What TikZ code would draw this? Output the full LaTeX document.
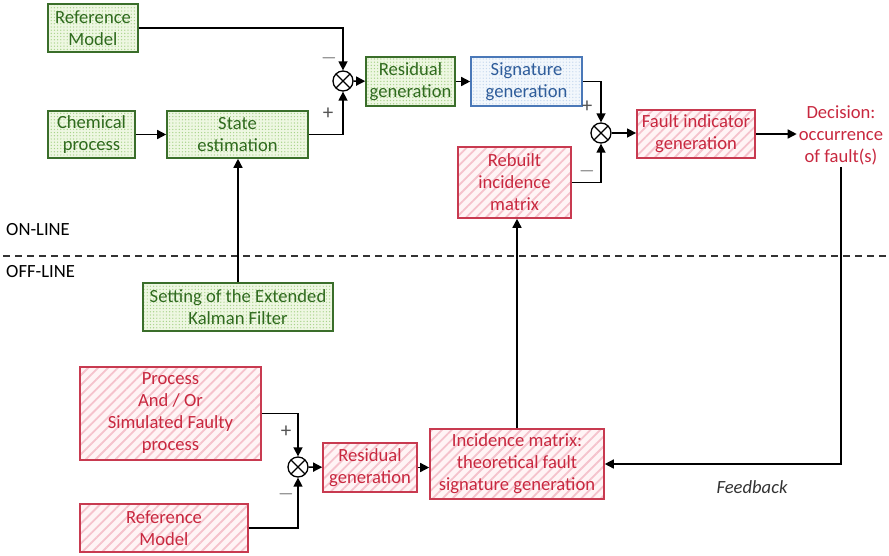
\documentclass[tikz,border=0pt]{standalone}
\usepackage{fontspec}
\setmainfont{Carlito}
\usetikzlibrary{arrows.meta,patterns.meta}
\definecolor{gborder}{HTML}{3A6E2A}
\definecolor{gtext}{HTML}{2F6A1E}
\definecolor{gfill}{HTML}{EEF7E2}
\definecolor{gdot}{HTML}{A8D38A}
\definecolor{rborder}{HTML}{C83A50}
\definecolor{rtext}{HTML}{C8283F}
\definecolor{rfill}{HTML}{FFF4F5}
\definecolor{rline}{HTML}{F5C2CC}
\definecolor{bborder}{HTML}{4A78B8}
\definecolor{btext}{HTML}{2E5C9A}
\definecolor{bfill}{HTML}{F2F7FC}
\definecolor{bdot}{HTML}{C5D8EE}
\definecolor{sgn}{HTML}{555555}
\tikzset{
  x=1pt,y=-1pt,
  every node/.style={font=\fontsize{18.6}{22}\selectfont, align=center, inner sep=0pt},
  gbox/.style={draw=gborder, line width=1.6pt, text=gtext, preaction={fill=gfill},
    pattern={Dots[radius=0.7pt,distance=3.2pt]}, pattern color=gdot},
  rbox/.style={draw=rborder, line width=1.6pt, text=rtext, preaction={fill=rfill},
    pattern={Lines[angle=45,distance=7pt,line width=1.8pt]}, pattern color=rline},
  bbox/.style={draw=bborder, line width=1.6pt, text=btext, preaction={fill=bfill},
    pattern={Dots[radius=0.7pt,distance=3.2pt]}, pattern color=bdot},
  sumnode/.style={circle, draw, fill=white, minimum size=20pt, line width=1.3pt,
    path picture={\draw[line width=1.1pt] (path picture bounding box.north west) -- (path picture bounding box.south east)
      (path picture bounding box.north east) -- (path picture bounding box.south west);}},
  arr/.style={line width=1.5pt, -{Triangle[length=9pt,width=9pt]}},
  sign/.style={text=sgn, font=\fontsize{21}{21}\selectfont},
}
\begin{document}
\begin{tikzpicture}
\useasboundingbox (0,0) rectangle (889,555);
% on-line
\node[gbox, minimum width=90pt, minimum height=48pt] (refA) at (93,28) {Reference\\Model};
\node[gbox, minimum width=87pt, minimum height=47pt] (chem) at (91.5,134.5) {Chemical\\process};
\node[gbox, minimum width=141pt, minimum height=47pt] (state) at (237.5,134.5) {State\\estimation};
\node[sumnode] (sum1) at (343,81) {};
\node[gbox, minimum width=89pt, minimum height=49pt] (res1) at (410.5,81.5) {Residual\\generation};
\node[bbox, minimum width=111pt, minimum height=49pt] (sig) at (526.5,81.5) {Signature\\generation};
\node[sumnode] (sum2) at (601,133) {};
\node[rbox, minimum width=118pt, minimum height=48pt] (fault) at (696,134) {Fault indicator\\generation};
\node[text=rtext, inner sep=2pt] (dec) at (841,135) {Decision:\\occurrence\\of fault(s)};
\node[rbox, minimum width=113pt, minimum height=71pt] (rebuilt) at (514.5,182.5) {Rebuilt\\incidence\\matrix};
% labels
\node[anchor=west] (on) at (6,230) {ON-LINE};
\node[anchor=west] (off) at (6,272) {OFF-LINE};
\draw[line width=1.4pt, draw=black!80, dash pattern=on 7pt off 5pt] (3,256) -- (889,256);
% off-line
\node[gbox, minimum width=190pt, minimum height=48pt] (kal) at (238,307) {Setting of the Extended\\Kalman Filter};
\node[rbox, minimum width=181pt, minimum height=93pt] (proc) at (170.5,413.5) {Process\\And / Or\\Simulated Faulty\\process};
\node[rbox, minimum width=168pt, minimum height=48pt] (refB) at (164,528) {Reference\\Model};
\node[sumnode] (sum3) at (298,467) {};
\node[rbox, minimum width=94pt, minimum height=49pt] (res2) at (370,467.5) {Residual\\generation};
\node[rbox, minimum width=174pt, minimum height=70pt] (inc) at (517,464) {Incidence matrix:\\theoretical fault\\signature generation};
\node[text=black!80, font=\fontsize{18.6}{18.6}\selectfont\itshape] (fb) at (752,487) {Feedback};
% signs
\node[sign] (s1m) at (329,58) {$-$};
\node[sign] (s1p) at (328,114) {+};
\node[sign] (s2p) at (587,107) {+};
\node[sign] (s2m) at (587,171) {$-$};
\node[sign] (s3p) at (286,432) {+};
\node[sign] (s3m) at (286,494) {$-$};
% connectors
\draw[arr] (refA.east) -| (sum1.north);
\draw[arr] (state.east) -| (sum1.south);
\draw[arr] (chem) -- (state);
\draw[arr] (sum1) -- (res1);
\draw[arr] (res1) -- (sig);
\draw[arr] (sig.east) -| (sum2.north);
\draw[arr] (rebuilt.east) -| (sum2.south);
\draw[arr] (sum2) -- (sum2 -| fault.west);
\draw[arr] (fault.east) -- (fault.east -| dec.west);
\draw[arr] (dec.south) |- (inc.east);
\draw[arr] (kal.north) -- (kal.north |- state.south);
\draw[arr] (inc.north) -- (inc.north |- rebuilt.south);
\draw[arr] (proc.east) -| (sum3.north);
\draw[arr] (refB.east) -| (sum3.south);
\draw[arr] (sum3) -- (res2);
\draw[arr] (res2) -- (res2 -| inc.west);
\end{tikzpicture}
\end{document}
